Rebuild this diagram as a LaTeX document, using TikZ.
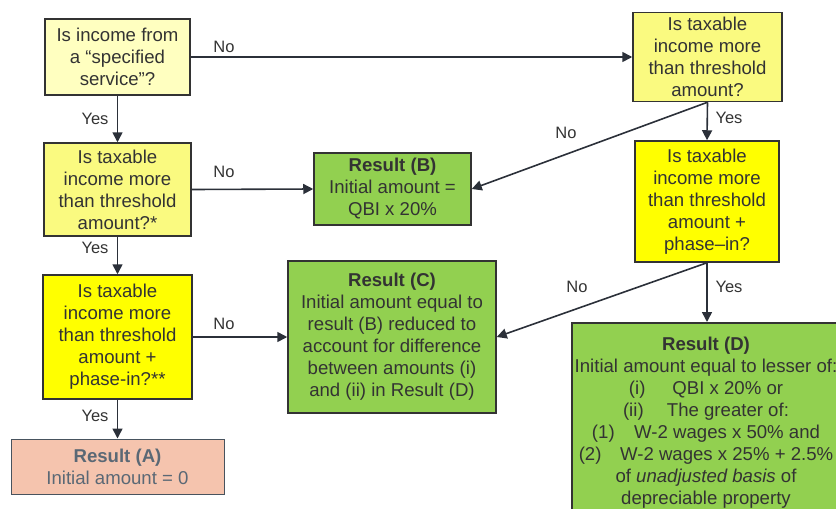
\documentclass[tikz,border=0pt]{standalone}
\usepackage{fontspec}
\setmainfont{Liberation Sans}
\usetikzlibrary{arrows.meta}
\definecolor{txt}{HTML}{333333}
\definecolor{edge}{HTML}{2B3039}
\definecolor{qlight}{HTML}{FFFFC0}
\definecolor{qmid}{HTML}{FAFA80}
\definecolor{qbright}{HTML}{FFFF00}
\definecolor{resgreen}{HTML}{92D050}
\definecolor{ressalmon}{HTML}{F5C4AE}
\definecolor{atxt}{HTML}{5A6875}
\tikzset{
  box/.style={draw=txt, line width=1.5pt, align=center, inner sep=2pt,
    text=txt, font=\fontsize{18.6}{22}\selectfont},
  conn/.style={draw=edge, line width=1.6pt, -{Triangle[length=10pt,width=10pt]}},
  lbl/.style={text=txt, font=\fontsize{16.5}{19}\selectfont, inner sep=0pt}
}
\begin{document}
\begin{tikzpicture}[x=1pt,y=-1pt]
\useasboundingbox (0,0) rectangle (836,509);
\begin{scope}
\clip (0,0) rectangle (836,509);
\node[box, fill=qlight, minimum width=145, minimum height=76] (q1) at (117.5,57)
  {Is income from\\a “specified\\service”?};
\node[box, fill=qmid, minimum width=147, minimum height=93] (q2) at (117.5,189.5)
  {Is taxable\\income more\\than threshold\\amount?*};
\node[box, fill=qbright, minimum width=149, minimum height=124] (q3) at (117.5,337)
  {Is taxable\\income more\\than threshold\\amount +\\phase-in?**};
\node[box, fill=ressalmon, draw=atxt!80!black, line width=1pt, text=atxt,
  minimum width=213, minimum height=55] (ra) at (117.5,466.5)
  {\textbf{Result (A)}\\Initial amount = 0};
\node[box, fill=resgreen, minimum width=157, minimum height=72] (rb) at (392.5,189)
  {\textbf{Result (B)}\\Initial amount =\\QBI x 20\%};
\node[box, fill=resgreen, minimum width=208, minimum height=152] (rc) at (392,337)
  {\textbf{Result (C)}\\Initial amount equal to\\result (B) reduced to\\account for difference\\between amounts (i)\\and (ii) in Result (D)};
\node[box, fill=qmid, minimum width=149, minimum height=89] (q4) at (707.5,57)
  {Is taxable\\income more\\than threshold\\amount?};
\node[box, fill=qbright, minimum width=144, minimum height=121] (q5) at (707,201.5)
  {Is taxable\\income more\\than threshold\\amount +\\phase--in?};
\node[box, fill=resgreen, anchor=north, minimum width=268,
  minimum height=200, inner ysep=8pt] (rd) at (706,322)
  {\textbf{Result (D)}\\Initial amount equal to lesser of:\\
   (i)\hspace{1.45em}QBI x 20\% or\\
   (ii)\hspace{1.25em}The greater of:\\
   (1)\hspace{1.05em}W-2 wages x 50\% and\\
   (2)\hspace{1em}W-2 wages x 25\% + 2.5\%\\
   of \textit{unadjusted basis} of\\
   depreciable property};
\end{scope}
\draw[conn] (q1.east) -- (q4.west);
\draw[conn] (q1.south) -- (q2.north);
\draw[conn] (q2.east) -- (rb.west);
\draw[conn] (q2.south) -- (q3.north);
\draw[conn] (q3.east) -- (rc.west);
\draw[conn] (q3.south) -- (ra.north);
\draw[conn] (q4.south) -- (rb.east);
\draw[conn] (q4.south) -- (q5.north);
\draw[conn] (q5.south) -- (rc.east);
\draw[conn] (q5.south) -- (rd.north -| q5.south);
\node[lbl] (l1) at (224,47) {No};
\node[lbl] (l2) at (95,119) {Yes};
\node[lbl] (l3) at (224,172) {No};
\node[lbl] (l4) at (95,248) {Yes};
\node[lbl] (l5) at (224,324) {No};
\node[lbl] (l6) at (95,416) {Yes};
\node[lbl] (l7) at (566,133) {No};
\node[lbl] (l8) at (729,118) {Yes};
\node[lbl] (l9) at (577,287) {No};
\node[lbl] (l10) at (729,287) {Yes};
\end{tikzpicture}
\end{document}
